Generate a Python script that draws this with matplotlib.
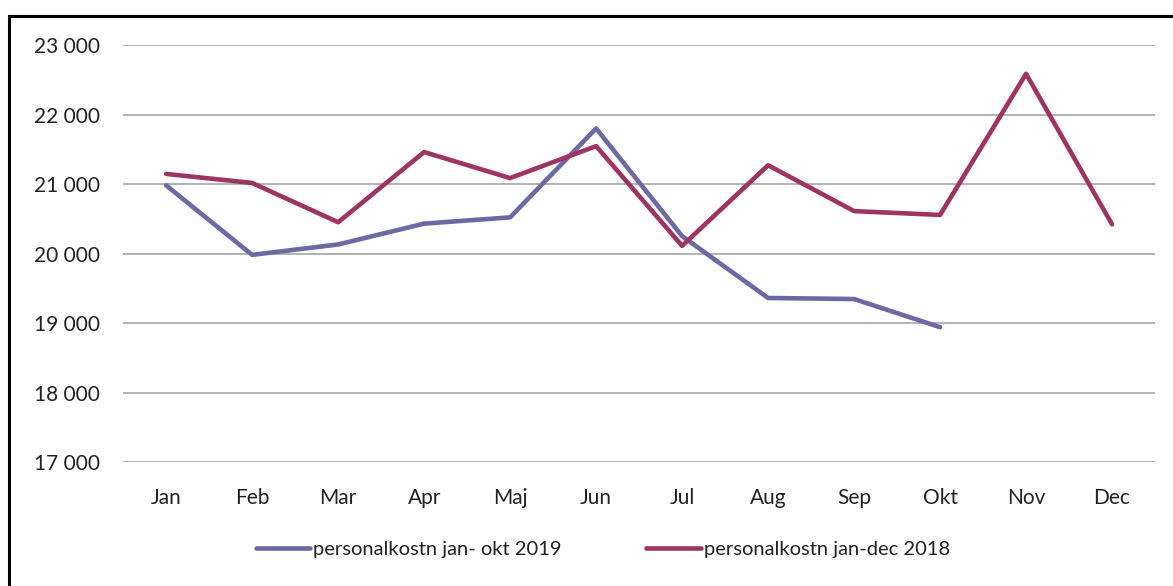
import matplotlib.pyplot as plt
from matplotlib.patches import Rectangle
from matplotlib.ticker import FuncFormatter

plt.rcParams['font.family'] = ['Lato', 'DejaVu Sans']

months = ['Jan', 'Feb', 'Mar', 'Apr', 'Maj', 'Jun', 'Jul', 'Aug', 'Sep', 'Okt', 'Nov', 'Dec']
cost_2019 = [20980, 19980, 20130, 20430, 20520, 21800, 20250, 19360, 19345, 18940]
cost_2018 = [21145, 21015, 20450, 21460, 21085, 21545, 20110, 21270, 20610, 20555, 22585, 20420]

label_2019 = 'personalkostn jan- okt 2019'
label_2018 = 'personalkostn jan-dec 2018'
blue = '#6B6AA3'
wine = '#9E3464'

fig = plt.figure(figsize=(11.73, 5.86), dpi=100)
ax = fig.add_axes([0.105, 0.2116, 0.8797, 0.7116])

x = list(range(len(months)))
ax.plot(x[:len(cost_2019)], cost_2019, color=blue, linewidth=3.3, label=label_2019,
        solid_joinstyle='round', solid_capstyle='round', zorder=3)
ax.plot(x, cost_2018, color=wine, linewidth=3.3, label=label_2018,
        solid_joinstyle='round', solid_capstyle='round', zorder=3)

ax.set_xlim(-0.5, len(months) - 0.5)
ax.set_ylim(17000, 23000)
ax.set_yticks(range(17000, 23001, 1000))
ax.yaxis.set_major_formatter(FuncFormatter(lambda v, p: f'{int(v):,}'.replace(',', ' ')))
ax.set_xticks(x)
ax.set_xticklabels(months)

ax.grid(axis='y', color='#A6A6A6', linewidth=1.2)
ax.set_axisbelow(True)
for s in ax.spines.values():
    s.set_visible(False)
ax.tick_params(axis='y', length=0, pad=17, labelsize=15, colors='#222222')
ax.tick_params(axis='x', length=0, pad=19, labelsize=15, colors='#222222')

fig.legend(loc='center', bbox_to_anchor=(0.514, 0.063), ncol=2, frameon=False,
           fontsize=14.5, handlelength=2.7, handletextpad=0.15, columnspacing=4.2,
           labelcolor='#222222')

# black frame around the chart (cut off at right and bottom)
fig.patches.append(Rectangle((9 / 1173, -0.1), 1.1, 1.1 - 16 / 586,
                             transform=fig.transFigure, fill=False,
                             edgecolor='black', linewidth=2.2))

fig.savefig('out.png', dpi=100)
